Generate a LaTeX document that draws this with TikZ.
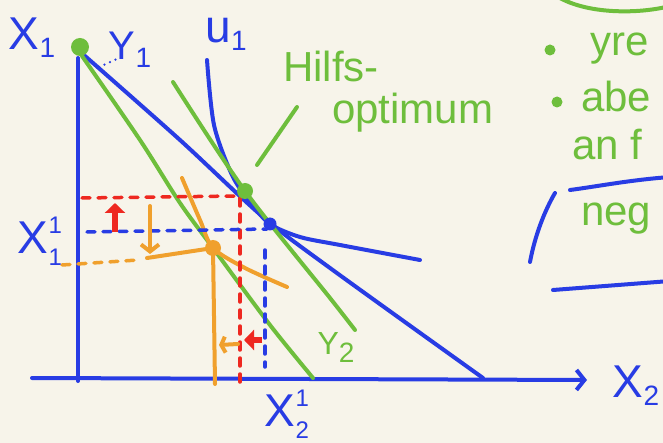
\documentclass[tikz,border=0pt]{standalone}
\usepackage{fontspec}
\setmainfont{Liberation Sans}
\usetikzlibrary{arrows.meta}
\definecolor{paper}{RGB}{247,244,234}
\definecolor{penblue}{RGB}{40,60,228}
\definecolor{pengreen}{RGB}{110,190,60}
\definecolor{penorange}{RGB}{240,160,45}
\definecolor{penred}{RGB}{238,40,32}
\newcommand\subsup[2]{\raisebox{-12pt}{\fontsize{24}{24}\selectfont\shortstack[l]{#2\\[12pt]#1}}}
\newcommand\sub[1]{\raisebox{-8pt}{\fontsize{28}{28}\selectfont #1}}
\tikzset{
  ink/.style={line width=4pt,line cap=round,line join=round},
  dashes/.style={line width=3.5pt,line cap=round,dash pattern=on 8pt off 8pt},
  lab/.style={inner sep=0pt,font=\fontsize{46}{48}\selectfont},
  note/.style={inner sep=0pt,anchor=base west,text=pengreen,font=\fontsize{42}{44}\selectfont},
}
\begin{document}
\begin{tikzpicture}[x=1pt,y=-1pt]
  \fill[paper] (0,0) rectangle (663,443);
  \clip (0,0) rectangle (663,443);
  \coordinate (top) at (80,47);
  \coordinate (O) at (78,381);
  \coordinate (tang) at (270,224);
  \coordinate (hilf) at (245,191);
  \coordinate (neu) at (213,248);
  % axes
  \draw[ink,penblue] (78,58) -- (O);
  \draw[ink,penblue,-{Straight Barb[length=8pt,width=20pt]}]
      (32,378) -- (587,380);
  % budget lines and indifference curves
  \draw[ink,penblue] plot[smooth] coordinates
      {(85,56) (180,140) (263,217) (330,268) (483,378)};
  \draw[ink,penblue] plot[smooth] coordinates
      {(207,60) (214,125) (232,175) (250,202) (tang) (300,237) (340,245) (420,260)};
  \draw[ink,pengreen] plot[smooth] coordinates
      {(82,56) (140,140) (180,203) (neu) (270,325) (313,378)};
  \draw[ink,pengreen] plot[smooth] coordinates
      {(173,82) (hilf) (330,298) (355,330)};
  \draw[ink,penorange] plot[smooth] coordinates
      {(182,178) (200,220) (neu) (245,268) (287,287)};
  % projections
  \draw[dashes,penred] (82,198) -- (236,196);
  \draw[dashes,penred] (240,198) -- (240,382);
  \draw[dashes,penblue] (87,232) -- (267,229);
  \draw[dashes,penblue] (265,250) -- (265,367);
  \draw[dashes,penorange] (62,265) -- (138,260);
  \draw[ink,penorange] (neu) -- (147,258);
  \draw[ink,penorange] (neu) -- (215,384);
  % shifts
  \draw[penred,line width=5.5pt,-{Triangle[length=10pt,width=20pt]}]
      (115,232) -- (115,203);
  \draw[penred,line width=5.5pt,-{Triangle[length=10pt,width=20pt]}]
      (262,340) -- (244,340);
  \draw[ink,penorange,-{Straight Barb[length=7pt,width=18pt]}]
      (150,206) -- (150,254);
  \draw[ink,penorange,-{Straight Barb[length=4pt,width=16pt]}]
      (238,344) -- (219,345);
  % points
  \fill[pengreen] (top) circle (9pt);
  \fill[pengreen] (hilf) circle (8pt);
  \fill[penblue] (tang) circle (6.5pt);
  \fill[penorange] (neu) circle (8pt);
  \draw[penblue,line width=2.5pt,line cap=round,dash pattern=on 0pt off 6pt]
      (99,67) -- (117,59);
  \draw[ink,pengreen] (257,165) -- (297,107);
  % labels
  \node[lab,text=penblue] (xeins) at (32,38) {X\sub{1}};
  \node[lab,text=penblue,font=\fontsize{40}{42}\selectfont] (yeins) at (130,50) {Y\sub{1}};
  \node[lab,text=penblue] (ueins) at (226,34) {u\sub{1}};
  \node[lab,text=penblue] (xeinsneu) at (40,241) {X\subsup{1}{1}};
  \node[lab,text=penblue] (xzweineu) at (287,414) {X\subsup{2}{1}};
  \node[lab,text=penblue] (xzwei) at (636,386) {X\sub{2}};
  \node[lab,text=pengreen,font=\fontsize{32}{34}\selectfont] (yzwei) at (336,347) {Y\sub{2}};
  \node[note] (hilfs) at (283,82) {Hilfs-};
  \node[note] (optimum) at (332,124) {optimum};
  % side notes
  \draw[ink,pengreen] (555,-5) .. controls (585,15) and (640,14) .. (670,6);
  \fill[pengreen] (550,50) circle (5.5pt);
  \fill[pengreen] (557,102) circle (5.5pt);
  \node[note] (yre) at (590,56) {yre};
  \node[note] (abe) at (581,112) {abe};
  \node[note] (anf) at (572,160) {an f};
  \node[note] (neg) at (581,226) {neg};
  \draw[ink,penblue] (570,190) .. controls (600,186) and (630,180) .. (670,177);
  \draw[ink,penblue] (555,193) .. controls (545,210) and (535,235) .. (530,262);
  \draw[ink,penblue] (553,290) -- (670,281);
\end{tikzpicture}
\end{document}
